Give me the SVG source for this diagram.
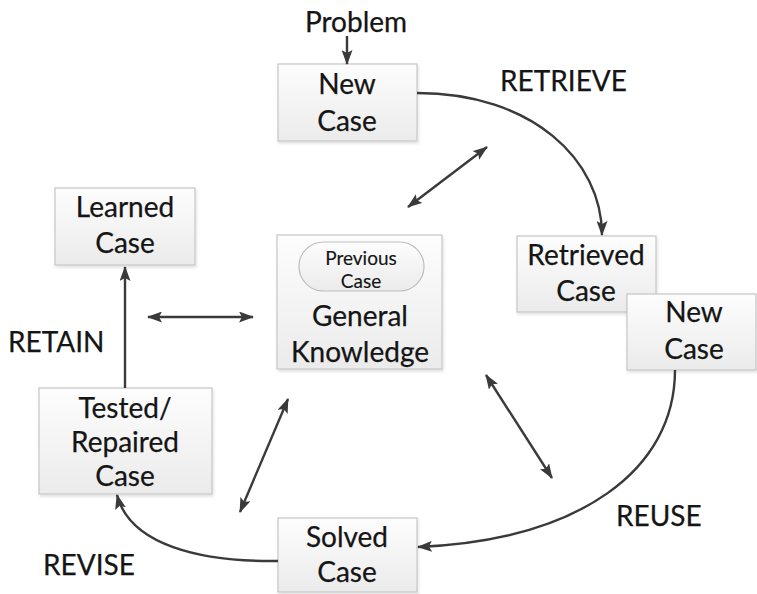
<svg xmlns="http://www.w3.org/2000/svg" width="757" height="594" viewBox="0 0 757 594">
  <defs>
    <linearGradient id="boxFill" x1="0" y1="0" x2="0" y2="1">
      <stop offset="0" stop-color="#fdfdfd"/>
      <stop offset="1" stop-color="#ebebeb"/>
    </linearGradient>
    <filter id="soft" x="-10%" y="-10%" width="130%" height="130%">
      <feDropShadow dx="1" dy="2" stdDeviation="1.5" flood-color="#000" flood-opacity="0.12"/>
    </filter>
    <marker id="head" viewBox="0 0 15 11" refX="14" refY="5.5" markerWidth="15" markerHeight="11" markerUnits="userSpaceOnUse" orient="auto-start-reverse">
      <path d="M0,0 L15,5.5 L0,11 L3,5.5 Z" fill="#3a3a3a"/>
    </marker>
  </defs>
  <style>
    .box { fill: url(#boxFill); stroke: #c6c6c6; stroke-width: 1.2; filter: url(#soft); }
    .pill { fill: url(#boxFill); stroke: #bdbdbd; stroke-width: 1.2; }
    .lbl { font-family: Lato, "Liberation Sans", sans-serif; font-size: 28px; fill: #151515; stroke: #151515; stroke-width: 0.25; text-anchor: middle; }
    .small { font-size: 19px; stroke-width: 0.15; }
    .stage { font-family: Lato, "Liberation Sans", sans-serif; font-size: 28px; fill: #151515; stroke: #151515; stroke-width: 0.25; }
    .edge { fill: none; stroke: #3a3a3a; stroke-width: 2.4; }
    .one { marker-end: url(#head); }
    .two { marker-start: url(#head); marker-end: url(#head); }
  </style>

  <rect width="757" height="594" fill="#ffffff"/>

  <g id="problem">
    <text class="lbl" x="356" y="32">Problem</text>
  </g>

  <g id="new-case">
    <rect class="box" x="278" y="64" width="139" height="77"/>
    <text class="lbl" x="347" y="94">New</text>
    <text class="lbl" x="347" y="131">Case</text>
  </g>

  <g id="retrieved-case">
    <rect class="box" x="517" y="236" width="139" height="76"/>
    <text class="lbl" x="586" y="265">Retrieved</text>
    <text class="lbl" x="586" y="301">Case</text>
  </g>

  <g id="new-case-2">
    <rect class="box" x="627" y="294" width="129" height="76"/>
    <text class="lbl" x="694" y="322">New</text>
    <text class="lbl" x="694" y="359">Case</text>
  </g>

  <g id="general-knowledge">
    <rect class="box" x="277" y="235" width="165" height="134"/>
    <rect class="pill" x="299" y="242" width="125" height="49" rx="24.5" ry="24.5"/>
    <text class="lbl small" x="361" y="265">Previous</text>
    <text class="lbl small" x="361" y="288">Case</text>
    <text class="lbl" x="360" y="326">General</text>
    <text class="lbl" x="360" y="362">Knowledge</text>
  </g>

  <g id="learned-case">
    <rect class="box" x="55" y="188" width="140" height="77"/>
    <text class="lbl" x="125" y="217">Learned</text>
    <text class="lbl" x="125" y="253">Case</text>
  </g>

  <g id="tested-case">
    <rect class="box" x="39" y="388" width="173" height="106"/>
    <text class="lbl" x="125" y="418">Tested/</text>
    <text class="lbl" x="125" y="452">Repaired</text>
    <text class="lbl" x="125" y="486">Case</text>
  </g>

  <g id="solved-case">
    <rect class="box" x="278" y="518" width="139" height="74"/>
    <text class="lbl" x="347" y="547">Solved</text>
    <text class="lbl" x="347" y="582">Case</text>
  </g>

  <g id="stage-labels">
    <text class="stage" x="500" y="91">RETRIEVE</text>
    <text class="stage" x="616" y="526">REUSE</text>
    <text class="stage" x="43" y="575">REVISE</text>
    <text class="stage" x="8" y="352">RETAIN</text>
  </g>

  <g id="connectors">
    <path class="edge one" d="M347,36 L347,64"/>
    <path class="edge one" d="M417,93 C532,93 602,160 602,235"/>
    <path class="edge one" d="M675,370 C675,470 580,540 418,547"/>
    <path class="edge one" d="M278,561 C200,562 130,545 117,495"/>
    <path class="edge one" d="M125,388 L125,267"/>
    <path class="edge two" d="M408,207 L487,147"/>
    <path class="edge two" d="M148,317 L253,317"/>
    <path class="edge two" d="M288,399 L240,512"/>
    <path class="edge two" d="M486,375 L552,478"/>
  </g>
</svg>
